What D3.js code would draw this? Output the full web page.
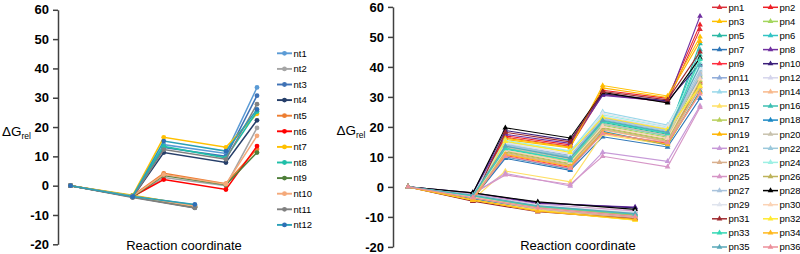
<!DOCTYPE html>
<html>
<head>
<meta charset="utf-8">
<script src="https://cdn.jsdelivr.net/npm/d3@7"></script>
<style>
  body { margin: 0; background: #fff; }
  svg { display: block; font-family: "Liberation Sans", Arial, sans-serif; }
</style>
</head>
<body>
<div class="chart"></div>
<script>
// ---- left panel (nt) ----
const ntNames = ["nt1","nt2","nt3","nt4","nt5","nt6","nt7","nt8","nt9","nt10","nt11","nt12"]
const ntStagesLow = [0, 2, 4]
const ntStagesUp = [2, 3, 5, 6]
const ntStart = [0,0,0,0,0,0,0,0,0,0,0,0]
const ntInt1 = [-3.5,-3.8,-3.6,-3.9,-3.4,-3.7,-3.3,-3.5,-3.8,-3.6,-4.0,-3.7]
const ntProd = [-6.6,-7.2,-6.8,-7.5,-7.0,-7.3,-6.9,-7.1,-7.4,-7.0,-7.6,-6.4]
const ntTS1 = [14.0,2.8,13.0,11.3,4.2,2.1,16.5,13.4,3.5,3.8,12.3,15.2]
const ntInt2 = [11.0,0.0,10.0,7.9,0.7,-1.3,13.1,9.5,0.3,0.5,9.0,11.8]
const ntTS2 = [33.5,19.7,30.7,22.3,12.5,13.5,24.5,25.3,11.3,17.0,27.8,26.0]

// ---- right panel (pn) ----
const pnNames = d3.range(1, 37).map(i => "pn" + i)
const pnStagesLow = [0, 2, 4, 7]
const pnStagesUp = [2, 3, 5, 6, 8, 9]
const pnStart = d3.range(36).map(() => 0)
const pnInt1 = [-3.5,-3.8,-4.5,-2.5,-3.0,-3.2,-4.0,-2.2,-3.6,-2.0,-2.8,-2.6,-3.1,-3.4,-4.2,-3.0,-3.3,-3.9,
                -4.6,-2.9,-2.4,-3.5,-3.7,-2.7,-2.3,-3.2,-2.6,-2.0,-2.9,-3.4,-4.8,-4.4,-3.0,-4.3,-2.8,-3.6]
const pnLow1 = [-6.5,-7.0,-7.8,-6.0,-6.5,-6.8,-7.2,-5.5,-7.0,-5.2,-6.2,-6.0,-6.6,-7.0,-7.9,-6.4,-6.7,-7.3,
                -8.0,-6.1,-5.8,-6.9,-7.4,-6.3,-5.9,-6.6,-6.2,-5.0,-6.0,-7.1,-8.3,-7.9,-6.5,-8.1,-6.3,-7.0]
const pnLow2 = [-9.5,-10.0,-10.8,-8.5,-9.2,-9.6,-10.2,-6.7,-9.8,-7.0,-8.8,-8.6,-9.3,-9.9,-10.9,-9.0,-9.4,-10.3,
                -11.0,-8.7,-8.2,-9.7,-10.4,-8.9,-8.0,-9.4,-8.8,-7.5,-8.4,-10.0,-10.6,-11.1,-9.1,-10.8,-8.9,-9.9]
const pnTS1 = [16.5,17.0,15.8,12.0,13.5,13.0,9.5,17.5,10.5,18.8,14.0,14.5,15.0,11.0,5.3,12.5,11.5,10.0,
               16.2,13.2,4.5,14.2,11.2,15.5,4.0,11.8,13.8,19.7,14.8,12.2,18.2,15.2,12.8,10.8,13.6,10.2]
const pnInt2 = [13.5,14.0,13.0,8.5,10.0,9.5,5.5,14.5,6.5,15.5,10.5,11.0,11.8,7.0,1.7,9.0,7.5,6.0,
                13.3,9.2,0.3,10.2,7.2,12.0,0.8,7.8,9.8,16.3,10.8,8.2,15.0,11.5,8.8,6.8,9.6,6.2]
const pnTS2 = [30.8,32.2,33.8,20.5,21.5,22.0,16.7,30.5,18.0,31.0,23.0,23.5,25.0,19.0,17.5,21.0,19.5,18.5,
               33.0,21.0,11.5,22.5,19.2,24.0,10.2,19.8,22.8,31.5,24.5,20.2,31.8,23.2,21.8,18.2,22.2,17.8]
const pnInt3 = [28.3,29.5,30.3,16.5,17.5,18.0,13.3,28.5,14.5,28.7,19.0,19.5,20.6,15.0,14.0,17.0,15.5,14.0,
                29.8,17.2,8.5,18.5,15.2,20.0,6.7,15.8,18.8,28.0,20.2,16.2,29.0,19.2,17.8,14.2,18.2,14.8]
const pnTS3 = [52.5,54.0,50.0,37.0,47.8,45.8,29.5,56.9,35.0,41.0,36.5,38.5,40.0,33.5,34.0,44.0,35.5,32.0,
               48.5,38.0,27.0,39.0,33.0,41.5,26.5,34.5,37.5,43.0,39.5,36.0,45.0,33.5,42.5,31.5,40.5,31.0]

const yTicks = [-20, -10, 0, 10, 20, 30, 40, 50, 60]

// colours
const ntColors = ["#5b9bd5","#a5a5a5","#3f72b5","#263f6a","#ed7d31","#ff0000",
                  "#ffc000","#1fbfa8","#4f7f3a","#f4a97a","#808080","#2aa0b8"]
const ntMarkerColors = ntColors.map((c, i) => i === 11 ? "#2e6fb5" : c)
const pnColors = ["#dc2f3a","#ee2027","#ffc000","#a4d65e","#2bb8a4","#33c4c4","#2e75b6","#7030a0","#ff2e3f",
                  "#3b1f7a","#8eaad8","#d5d5ec","#9ad8ea","#f8b98c","#ffe066","#3cbfb2","#b8cf5a","#1b88c4",
                  "#ffb400","#c8c2ad","#c79ad8","#9cc9dc","#d9b08e","#9ef0e4","#d695c6","#bdb35a","#a9c3dc",
                  "#000000","#dfe4ee","#fbd3b5","#9e2a2f","#ffea30","#35d9b5","#ffb81c","#59a8b9","#ec8f9a"]

const svg = d3.select(".chart").append("svg")
    .attr("width", 800)
    .attr("height", 254)

const line = d3.line()

function drawPanel(p) {
    const x = d3.scaleLinear().domain(p.xDomain).range(p.xRange)
    const y = d3.scaleLinear().domain([-20, 60]).range(p.yRange)
    const g = svg.append("g")

    p.names.forEach((name, i) => {
        const sg = g.append("g")
        const low = p.stagesLow.map((s, k) => [x(s), y(p.low[k][i])])
        const up = p.stagesUp.map((s, k) => [x(s), y(p.up[k][i])])
        ;[low, up].forEach(pts => {
            sg.append("path")
                .attr("d", line(pts))
                .attr("fill", "none")
                .attr("stroke", p.colors[i])
                .attr("stroke-width", p.lineWidth)
        })
        low.concat(up).forEach(pt => {
            sg.append("path")
                .attr("d", d3.symbol().type(p.symbol).size(p.symbolSize)())
                .attr("transform", `translate(${pt[0]},${pt[1]})`)
                .attr("fill", p.markerColors[i])
        })
    })

    const axis = g.append("g")
        .attr("transform", `translate(${p.axisX},0)`)
        .call(d3.axisLeft(y).tickValues(yTicks).tickFormat(d => String(d))
            .tickSize(5).tickSizeOuter(0).tickPadding(4))
    axis.select(".domain").attr("stroke", "#404040").attr("stroke-width", 1.5)
    axis.selectAll(".tick line").attr("stroke", "#404040").attr("stroke-width", 1.5)
    axis.selectAll(".tick text")
        .attr("font-size", "13px")
        .attr("font-weight", "bold")
        .attr("fill", "#000")
        .attr("font-family", "Liberation Sans, Arial, sans-serif")

    const yl = g.append("text")
        .attr("x", p.yLabelX)
        .attr("y", p.yLabelY)
        .attr("font-size", "13.5px")
        .attr("fill", "#000")
    yl.append("tspan").text("ΔG")
    yl.append("tspan").attr("font-size", "8.5px").attr("dy", "3").text("rel")

    g.append("text")
        .attr("x", p.xLabelX)
        .attr("y", 250)
        .attr("text-anchor", "middle")
        .attr("font-size", "13px")
        .attr("fill", "#000")
        .text("Reaction coordinate")

    // legend
    p.names.forEach((name, i) => {
        const col = i % p.legendCols
        const row = Math.floor(i / p.legendCols)
        const lx = p.legendX + col * p.legendColW
        const ly = p.legendY + row * p.legendRowH
        const lg = g.append("g").attr("transform", `translate(${lx},${ly})`)
        lg.append("line")
            .attr("x1", 0).attr("x2", 15)
            .attr("stroke", p.colors[i])
            .attr("stroke-width", p.lineWidth + 0.4)
        lg.append("path")
            .attr("d", d3.symbol().type(p.symbol).size(p.symbolSize)())
            .attr("transform", "translate(7.5,0)")
            .attr("fill", p.markerColors[i])
        lg.append("text")
            .attr("x", 16.5)
            .attr("dy", "0.35em")
            .attr("font-size", "9.5px")
            .attr("fill", "#000")
            .text(name)
    })
}

drawPanel({
    names: ntNames,
    colors: ntColors,
    markerColors: ntMarkerColors,
    stagesLow: ntStagesLow,
    stagesUp: ntStagesUp,
    low: [ntStart, ntInt1, ntProd],
    up: [ntInt1, ntTS1, ntInt2, ntTS2],
    xDomain: [0, 6], xRange: [70.5, 257],
    yRange: [244.3, 9.8],
    axisX: 58,
    symbol: d3.symbolCircle, symbolSize: 18,
    lineWidth: 1.5,
    yLabelX: 2, yLabelY: 136,
    xLabelX: 184,
    legendCols: 1, legendColW: 0,
    legendX: 277, legendY: 53.3, legendRowH: 15.6
})

drawPanel({
    names: pnNames,
    colors: pnColors,
    markerColors: pnColors,
    stagesLow: pnStagesLow,
    stagesUp: pnStagesUp,
    low: [pnStart, pnInt1, pnLow1, pnLow2],
    up: [pnInt1, pnTS1, pnInt2, pnTS2, pnInt3, pnTS3],
    xDomain: [0, 9], xRange: [408, 700],
    yRange: [246.9, 6.9],
    axisX: 393,
    symbol: d3.symbolTriangle, symbolSize: 14,
    lineWidth: 1.1,
    yLabelX: 336.5, yLabelY: 135,
    xLabelX: 578,
    legendCols: 2, legendColW: 51,
    legendX: 712, legendY: 7.3, legendRowH: 14.1
})
</script>
</body>
</html>
